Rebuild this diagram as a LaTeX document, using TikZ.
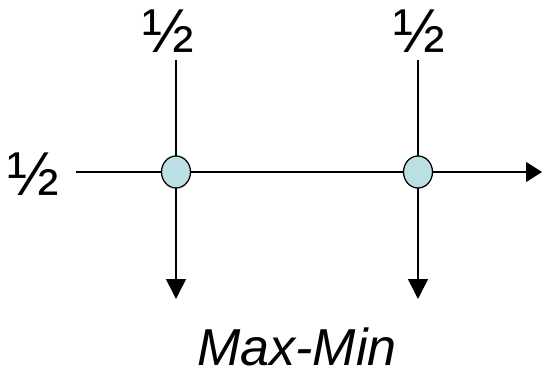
\documentclass[tikz,border=0pt]{standalone}
\usepackage{fontspec}
\setmainfont{Liberation Sans}
\usetikzlibrary{arrows.meta,shapes.geometric}
\definecolor{nodefill}{HTML}{BBE0E3}
\tikzset{
  junction/.style={ellipse, draw=black, line width=1.3pt, fill=nodefill, minimum width=29pt, minimum height=32pt, inner sep=0pt},
  wire/.style={line width=1.5pt, draw=black},
  harrow/.style={wire, -{Triangle[length=16pt,width=20pt]}},
  varrow/.style={wire, -{Triangle[length=20pt,width=20pt]}},
  half/.style={font=\fontsize{62}{62}\selectfont, inner sep=0pt},
  title/.style={font=\fontsize{52}{52}\selectfont\itshape, inner sep=0pt}
}
\begin{document}
\begin{tikzpicture}[x=1pt,y=-1pt]
\useasboundingbox (0,0) rectangle (542,375);
\coordinate (l) at (76,172);
\coordinate (e) at (542,172);
\coordinate (ta) at (176,60);
\coordinate (tb) at (418,60);
\coordinate (da) at (176,299);
\coordinate (db) at (418,299);
\draw[wire] (l) -- (176,172);
\draw[wire] (176,172) -- (418,172);
\draw[harrow] (418,172) -- (e);
\draw[wire] (ta) -- (176,172);
\draw[varrow] (176,172) -- (da);
\draw[wire] (tb) -- (418,172);
\draw[varrow] (418,172) -- (db);
\node[junction] (a) at (176,172) {};
\node[junction] (b) at (418,172) {};
\node[half] (h1) at (168,31) {½};
\node[half] (h2) at (419,31) {½};
\node[half] (h3) at (33,174) {½};
\node[title] (t) at (297,347) {Max-Min};
\end{tikzpicture}
\end{document}
